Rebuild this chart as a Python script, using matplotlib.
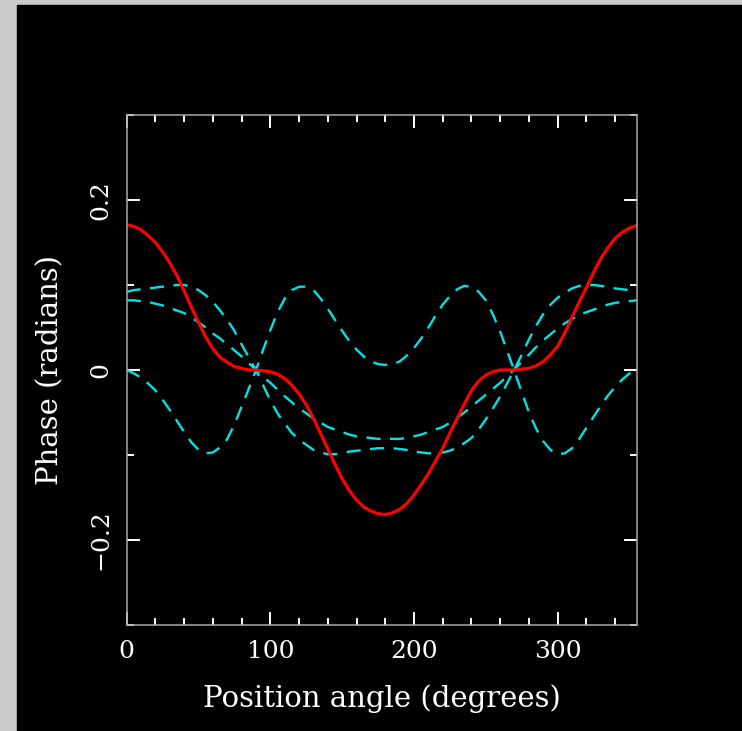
import numpy as np
import matplotlib.pyplot as plt
from matplotlib.ticker import MultipleLocator, FuncFormatter

# position angle samples (degrees), every 5 deg
angle = list(range(0, 360, 5))

# solid red curve
phase_total = [0.171, 0.169, 0.165, 0.158, 0.150, 0.139, 0.126, 0.111, 0.093, 0.074,
               0.056, 0.039, 0.025, 0.015, 0.009, 0.004, 0.002, 0.000, 0.000, -0.001,
               -0.002, -0.005, -0.010, -0.018, -0.028, -0.041, -0.057, -0.075, -0.093, -0.111,
               -0.128, -0.142, -0.153, -0.161, -0.166, -0.169, -0.170, -0.168, -0.164, -0.157,
               -0.147, -0.135, -0.122, -0.107, -0.092, -0.074, -0.057, -0.040, -0.024, -0.013,
               -0.006, -0.002, 0.000, 0.000, 0.000, 0.001, 0.002, 0.005, 0.010, 0.018,
               0.028, 0.044, 0.062, 0.080, 0.097, 0.115, 0.131, 0.144, 0.155, 0.162,
               0.167, 0.170]

# dashed cyan curves
phase_a = [0.000, -0.004, -0.009, -0.016, -0.024, -0.035, -0.047, -0.060, -0.073, -0.085,
           -0.094, -0.098, -0.097, -0.091, -0.081, -0.064, -0.043, -0.022, 0.000, 0.024,
           0.047, 0.068, 0.084, 0.094, 0.098, 0.098, 0.094, 0.084, 0.072, 0.059,
           0.046, 0.034, 0.024, 0.016, 0.010, 0.007, 0.006, 0.007, 0.010, 0.017,
           0.026, 0.037, 0.050, 0.064, 0.077, 0.087, 0.095, 0.099, 0.098, 0.092,
           0.082, 0.065, 0.045, 0.022, -0.002, -0.026, -0.050, -0.069, -0.084, -0.094,
           -0.099, -0.098, -0.092, -0.081, -0.068, -0.055, -0.042, -0.030, -0.020, -0.011,
           -0.004, 0.000]

phase_b = [0.092, 0.094, 0.095, 0.096, 0.097, 0.098, 0.099, 0.100, 0.100, 0.098,
           0.094, 0.088, 0.080, 0.070, 0.059, 0.046, 0.030, 0.015, 0.000, -0.018,
           -0.036, -0.051, -0.063, -0.074, -0.082, -0.088, -0.094, -0.097, -0.099, -0.099,
           -0.098, -0.096, -0.095, -0.094, -0.093, -0.092, -0.092, -0.092, -0.093, -0.094,
           -0.096, -0.097, -0.098, -0.098, -0.097, -0.095, -0.091, -0.086, -0.080, -0.070,
           -0.058, -0.045, -0.031, -0.015, 0.001, 0.018, 0.036, 0.052, 0.066, 0.077,
           0.085, 0.091, 0.096, 0.099, 0.100, 0.100, 0.099, 0.098, 0.096, 0.095,
           0.094, 0.093]

phase_c = [0.082, 0.082, 0.081, 0.080, 0.078, 0.076, 0.073, 0.070, 0.067, 0.062,
           0.056, 0.050, 0.043, 0.037, 0.030, 0.023, 0.016, 0.008, 0.000, -0.008,
           -0.015, -0.023, -0.031, -0.038, -0.045, -0.051, -0.057, -0.062, -0.067, -0.070,
           -0.073, -0.076, -0.078, -0.079, -0.080, -0.081, -0.081, -0.081, -0.081, -0.080,
           -0.078, -0.076, -0.073, -0.070, -0.067, -0.062, -0.056, -0.050, -0.043, -0.036,
           -0.029, -0.022, -0.015, -0.007, 0.001, 0.010, 0.018, 0.027, 0.035, 0.042,
           0.049, 0.055, 0.060, 0.065, 0.068, 0.071, 0.074, 0.077, 0.079, 0.080,
           0.081, 0.082]

plt.rcParams['font.family'] = ['DejaVu Serif']
plt.rcParams['font.size'] = 18

fig = plt.figure(figsize=(7.42, 7.31), dpi=100)
fig.patch.set_facecolor('#c9cacc')
fig.add_artist(plt.Rectangle((17 / 742, 0), 1, 726 / 731, transform=fig.transFigure,
                             color='black', zorder=-1))

ax = fig.add_axes([126.7 / 742, 106 / 731, 510 / 742, 510 / 731])
ax.set_facecolor('black')

cyan = '#00e3e3'
for series in (phase_a, phase_b, phase_c):
    ax.plot(angle, series, color=cyan, lw=1.7, dashes=(6, 4))
ax.plot(angle, phase_total, color='#ff0000', lw=2.3)

ax.set_xlim(0, 355)
ax.set_ylim(-0.3, 0.3)
ax.xaxis.set_major_locator(MultipleLocator(100))
ax.xaxis.set_minor_locator(MultipleLocator(20))
ax.yaxis.set_major_locator(MultipleLocator(0.2))
ax.yaxis.set_minor_locator(MultipleLocator(0.1))
ax.yaxis.set_major_formatter(FuncFormatter(
    lambda v, p: '0' if abs(v) < 1e-9 else f'{v:.1f}'.replace('-', '\u2212')))

for s in ax.spines.values():
    s.set_color('#a8a8a8')
    s.set_linewidth(1.1)

ax.tick_params(which='both', direction='in', top=True, right=True,
               color='white', labelcolor='white', width=1.4)
ax.tick_params(which='major', length=9.5)
ax.tick_params(which='minor', length=5)
ax.tick_params(axis='x', pad=11)
ax.tick_params(axis='y', pad=10, labelrotation=90)
for lab in ax.get_yticklabels():
    lab.set_verticalalignment('center')

ax.set_xlabel('Position angle (degrees)', color='white', fontsize=21, labelpad=15)
ax.set_ylabel('Phase (radians)', color='white', fontsize=21, labelpad=18)

fig.savefig('out.png', dpi=100, facecolor=fig.get_facecolor())
